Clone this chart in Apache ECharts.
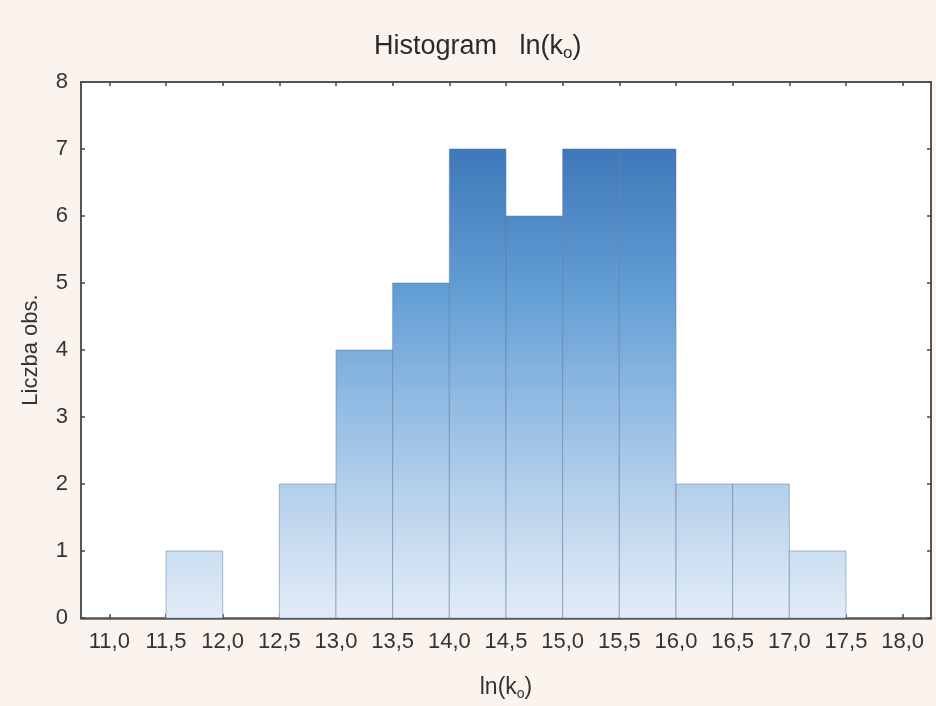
<!DOCTYPE html>
<html>
<head>
<meta charset="utf-8">
<script src="https://cdn.jsdelivr.net/npm/echarts@6/dist/echarts.min.js"></script>
<style>
  html, body { margin: 0; padding: 0; background: #fbf4ee; }
  #chart { width: 936px; height: 706px; }
</style>
</head>
<body>
<div id="chart"></div>
<script>
// Histogram bins of ln(k_o): lower edge, upper edge, observation count
const binStarts = [11.0, 11.5, 12.0, 12.5, 13.0, 13.5, 14.0, 14.5, 15.0, 15.5, 16.0, 16.5, 17.0, 17.5];
const binEnds   = [11.5, 12.0, 12.5, 13.0, 13.5, 14.0, 14.5, 15.0, 15.5, 16.0, 16.5, 17.0, 17.5, 18.0];
const counts    = [0, 1, 0, 2, 4, 5, 7, 6, 7, 7, 2, 2, 1, 0];

// Axis ticks
const xTicks = [11.0, 11.5, 12.0, 12.5, 13.0, 13.5, 14.0, 14.5, 15.0, 15.5, 16.0, 16.5, 17.0, 17.5, 18.0];
const yTicks = [0, 1, 2, 3, 4, 5, 6, 7, 8];

const X_MIN = 10.75, X_MAX = 18.25;
const FONT = '"Liberation Sans", Arial, sans-serif';
const fmtComma = v => v.toFixed(1).replace('.', ',');

const bins = binStarts.map((s, i) => [s, binEnds[i], counts[i]]).filter(b => b[2] > 0);

const chart = echarts.init(document.getElementById('chart'), null, { renderer: 'canvas' });

const axisLineStyle = { color: '#555', width: 2 };
const tickStyle = { color: '#444', width: 1.5 };
const labelStyle = { fontFamily: FONT, fontSize: 22, color: '#333' };

chart.setOption({
  backgroundColor: '#fbf4ee',
  animation: false,
  title: {
    text: 'Histogram   ln(k{sub|o})',
    left: 369,
    top: 26,
    textStyle: {
      fontFamily: FONT, fontSize: 27, fontWeight: 'normal', color: '#2a2a2a',
      rich: { sub: { fontFamily: FONT, fontSize: 17, color: '#2a2a2a', verticalAlign: 'bottom', padding: [14, 0, 0, 0] } }
    }
  },
  grid: {
    left: 81, top: 82, right: 5, bottom: 87,
    show: true, backgroundColor: '#ffffff', borderWidth: 0
  },
  xAxis: [
    {
      type: 'value', min: X_MIN, max: X_MAX, position: 'bottom',
      name: 'ln(k{sub|o})', nameLocation: 'middle', nameGap: 57,
      nameTextStyle: {
        fontFamily: FONT, fontSize: 23, color: '#333',
        rich: { sub: { fontFamily: FONT, fontSize: 14, color: '#333', verticalAlign: 'bottom', padding: [12, 0, 0, 0] } }
      },
      axisLine: { show: true, onZero: false, lineStyle: { color: '#555', width: 2.5 } },
      axisTick: { show: true, inside: true, length: 4, lineStyle: tickStyle, customValues: xTicks },
      axisLabel: Object.assign({ margin: 13, customValues: xTicks, formatter: v => fmtComma(v) }, labelStyle),
      splitLine: { show: false }
    },
    {
      type: 'value', min: X_MIN, max: X_MAX, position: 'top',
      axisLine: { show: true, onZero: false, lineStyle: axisLineStyle },
      axisTick: { show: true, inside: true, length: 4, lineStyle: tickStyle, customValues: xTicks },
      axisLabel: { show: false },
      splitLine: { show: false }
    }
  ],
  yAxis: [
    {
      type: 'value', min: 0, max: 8, interval: 1, position: 'left',
      name: 'Liczba obs.', nameLocation: 'middle', nameGap: 39,
      nameTextStyle: { fontFamily: FONT, fontSize: 22, color: '#333' },
      axisLine: { show: true, onZero: false, lineStyle: axisLineStyle },
      axisTick: { show: true, inside: true, length: 4, lineStyle: tickStyle, customValues: yTicks },
      axisLabel: Object.assign({ margin: 13, customValues: yTicks, formatter: v => String(v) }, labelStyle),
      splitLine: { show: false }
    },
    {
      type: 'value', min: 0, max: 8, interval: 1, position: 'right',
      axisLine: { show: true, onZero: false, lineStyle: axisLineStyle },
      axisTick: { show: true, inside: true, length: 4, lineStyle: tickStyle, customValues: yTicks },
      axisLabel: { show: false },
      splitLine: { show: false }
    }
  ],
  series: [{
    type: 'custom',
    xAxisIndex: 0,
    yAxisIndex: 0,
    data: bins,
    encode: { x: [0, 1], y: 2 },
    renderItem: function (params, api) {
      const p0 = api.coord([api.value(0), api.value(2)]);
      const p1 = api.coord([api.value(1), 0]);
      const top = api.coord([X_MIN, 8])[1];
      const bottom = api.coord([X_MIN, 0])[1];
      // colour shade follows the height in the plot, shared by all bars
      const fill = new echarts.graphic.LinearGradient(0, top, 0, bottom, [
        { offset: 0.0, color: '#316aad' },
        { offset: 0.125, color: '#3e78ba' },
        { offset: 0.4, color: '#649fd5' },
        { offset: 0.65, color: '#9cc2e6' },
        { offset: 0.85, color: '#c6dbef' },
        { offset: 1.0, color: '#e2ecf7' }
      ], true);
      return {
        type: 'rect',
        shape: { x: p0[0], y: p0[1], width: p1[0] - p0[0], height: p1[1] - p0[1] },
        style: { fill: fill, stroke: 'rgba(95,120,155,0.5)', lineWidth: 1 }
      };
    }
  }]
});
</script>
</body>
</html>
